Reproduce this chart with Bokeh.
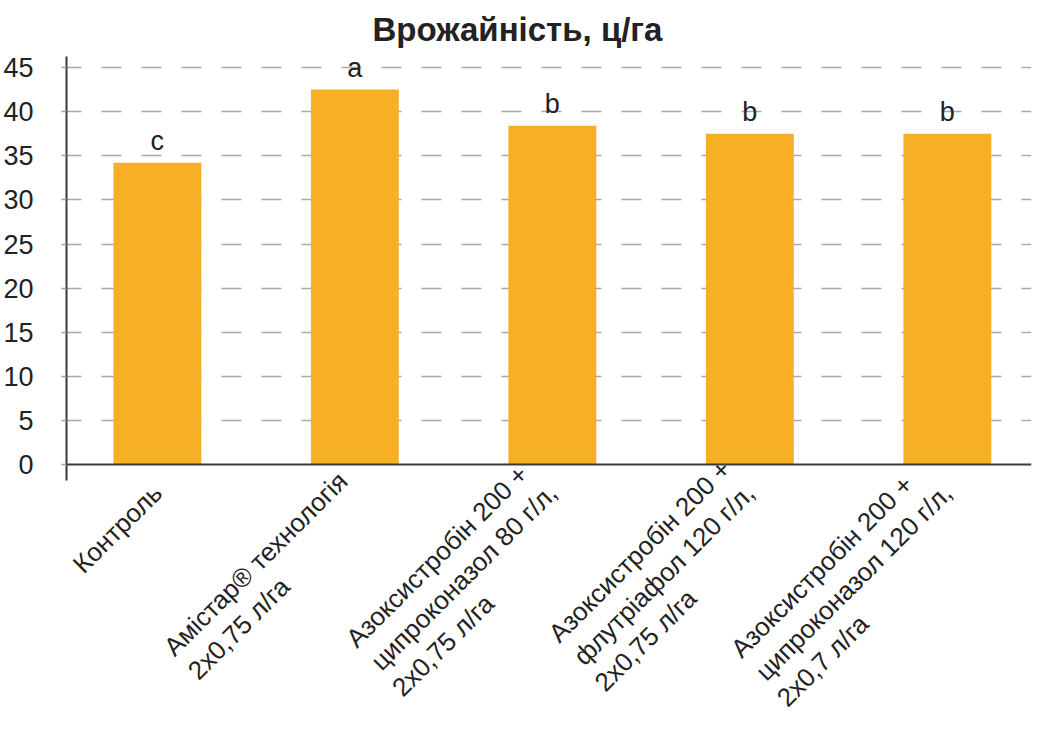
from bokeh.plotting import figure
from bokeh.models import ColumnDataSource, Range1d, FixedTicker, Span, Title, LabelSet
from bokeh.core.properties import value
from bokeh.embed import file_html
from bokeh.resources import INLINE

categories = [
    "Контроль",
    "Амістар® технологія\n2х0,75 л/га",
    "Азоксистробін 200 +\nципроконазол 80 г/л,\n2х0,75 л/га",
    "Азоксистробін 200 +\nфлутріафол 120 г/л,\n2х0,75 л/га",
    "Азоксистробін 200 +\nципроконазол 120 г/л,\n2х0,7 л/га",
]
yields = [34.2, 42.5, 38.4, 37.5, 37.5]
letters = ["c", "a", "b", "b", "b"]
y_ticks = [0, 5, 10, 15, 20, 25, 30, 35, 40, 45]

FONT = "Liberation Sans"

# approximate Arial advance widths (1/1000 em) used to left-align the lines
# of the rotated multi-line tick labels (Bokeh right-aligns them)
W = {"А": 667, "К": 583, "з": 458, "о": 556, "к": 438, "с": 500, "и": 559,
     "т": 458, "р": 556, "б": 573, "і": 222, "н": 552, "ц": 573, "п": 542,
     "а": 556, "л": 583, "ф": 823, "у": 500, "г": 365, "х": 500, "м": 688,
     "е": 556, "я": 542, "ь": 521, "®": 737, " ": 278, ",": 278, "+": 584,
     "/": 278}
NBSP = "\u00a0"


def width(s):
    return sum(W.get(ch, 556) for ch in s)


def left_align(label):
    lines = label.split("\n")
    wmax = max(width(l) for l in lines)
    return "\n".join(l + NBSP * int(round((wmax - width(l)) / 278.0)) for l in lines)


idx = list(range(len(categories)))
src = ColumnDataSource(dict(x=idx, top=yields, lab=letters))

p = figure(frame_width=965, frame_height=424, output_backend="svg", toolbar_location=None,
           x_range=Range1d(-0.46, 4.426), y_range=Range1d(-1.8, 46.25),
           min_border_left=59, min_border_right=2, min_border_top=54,
           min_border_bottom=0)
p.outline_line_color = None
p.background_fill_color = "white"

t = Title(text="Врожайність, ц/га", align="left", text_font=FONT,
          text_font_size="33px", text_font_style="bold", text_color="#222222",
          offset=306, standoff=17)
p.add_layout(t, "above")

p.vbar(x="x", top="top", width=0.445, bottom=0, source=src,
       fill_color="#F7AF26", line_color=None)

p.add_layout(Span(location=0, dimension="width", line_color="#3a3a3a", line_width=2))

labels = LabelSet(x="x", y="top", text="lab", source=src, text_align="center",
                  text_baseline="alphabetic", y_offset=13, text_font=value(FONT),
                  text_font_size="27px", text_color="#222222")
p.add_layout(labels)

# y axis
p.yaxis.ticker = FixedTicker(ticks=y_ticks)
p.yaxis.axis_line_color = "#3a3a3a"
p.yaxis.axis_line_width = 2
p.yaxis.major_tick_in = 0
p.yaxis.major_tick_out = 5
p.yaxis.major_tick_line_color = "#a0a0a0"
p.yaxis.major_tick_line_width = 1.5
p.yaxis.minor_tick_line_color = None
p.yaxis.major_label_standoff = 28
p.yaxis.major_label_text_font = FONT
p.yaxis.major_label_text_font_size = "27px"
p.yaxis.major_label_text_color = "#222222"

# x axis
p.xaxis.ticker = FixedTicker(ticks=idx)
p.xaxis.major_label_overrides = {i: left_align(c) for i, c in zip(idx, categories)}
p.xaxis.axis_line_color = None
p.xaxis.major_tick_line_color = None
p.xaxis.minor_tick_line_color = None
p.xaxis.major_label_orientation = 0.785398
p.xaxis.major_label_standoff = 2
p.xaxis.major_label_text_font = FONT
p.xaxis.major_label_text_font_size = "26px"
p.xaxis.major_label_text_line_height = 1.12
p.xaxis.major_label_text_color = "#222222"

p.xgrid.grid_line_color = None
p.ygrid.ticker = FixedTicker(ticks=y_ticks[1:])
p.ygrid.grid_line_color = "#a8a8a8"
p.ygrid.grid_line_width = 1.5
p.ygrid.grid_line_dash = "20 20"
p.ygrid.grid_line_dash_offset = 5

open("out.html", "w").write(file_html(p, INLINE))
